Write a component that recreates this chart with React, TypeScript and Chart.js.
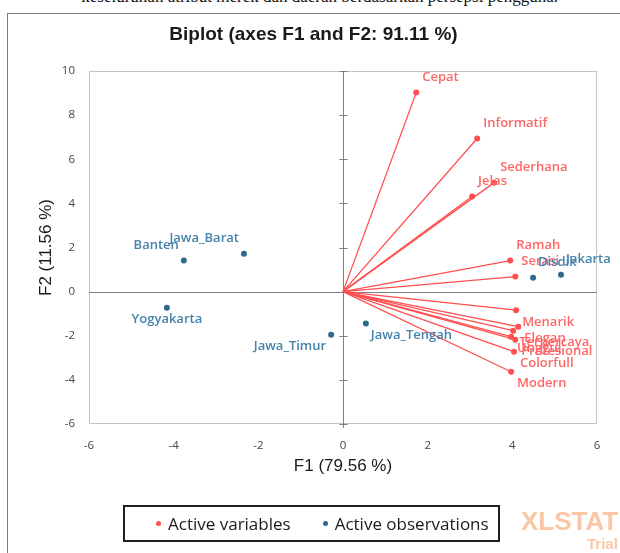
import React, { useEffect, useRef } from "react";
import { Chart, registerables } from "chart.js";

Chart.register(...registerables);

// ---- Data ----
const VAR_NAMES = [
  "Cepat", "Informatif", "Sederhana", "Jelas", "Ramah", "Serasi",
  "Menarik", "Elegan", "Terpercaya", "Unggul", "Profesional", "Colorfull", "Modern",
];
const VAR_F1 = [1.73, 3.17, 3.57, 3.05, 3.95, 4.07, 4.09, 4.14, 4.02, 3.97, 4.07, 4.04, 3.97];
const VAR_F2 = [9.02, 6.94, 4.94, 4.31, 1.41, 0.68, -0.84, -1.59, -1.77, -2.04, -2.18, -2.72, -3.63];

const OBS_NAMES = ["Jakarta", "Disdik", "Jawa_Tengah", "Jawa_Timur", "Yogyakarta", "Banten", "Jawa_Barat"];
const OBS_F1 = [5.15, 4.49, 0.54, -0.28, -4.16, -3.76, -2.34];
const OBS_F2 = [0.77, 0.63, -1.45, -1.95, -0.73, 1.41, 1.72];
// which side of the point each observation label sits on
const OBS_LABEL_SIDE = ["right", "right", "right", "left", "center", "left", "left"];

const X_TICKS = [-6, -4, -2, 0, 2, 4, 6];
const Y_TICKS = [-6, -4, -2, 0, 2, 4, 6, 8, 10];

const TITLE = "Biplot (axes F1 and F2: 91.11 %)";
const X_TITLE = "F1 (79.56 %)";
const Y_TITLE = "F2 (11.56 %)";
const LEGEND = ["Active variables", "Active observations"];
const PAGE_TEXT = "keseluruhan atribut merek dan daerah berdasarkan persepsi pengguna.";

const RED = "#ff4f4f";
const RED_TEXT = "#ff6666";
const BLUE = "#2c6b8e";
const BLUE_TEXT = "#4683aa";
const LABEL_FONT = "600 13px 'Open Sans'";

const decorPlugin = {
  id: "biplotDecor",
  beforeDatasetsDraw(chart: any) {
    const { ctx, chartArea: a, scales } = chart;
    const x = scales.x;
    const y = scales.y;
    ctx.save();
    ctx.lineWidth = 1;
    ctx.strokeStyle = "#c4c4c4";
    ctx.strokeRect(Math.round(a.left) + 0.5, Math.round(a.top) + 0.5, Math.round(a.width) - 1, Math.round(a.height) - 1);
    const x0 = Math.round(x.getPixelForValue(0)) + 0.5;
    const y0 = Math.round(y.getPixelForValue(0)) + 0.5;
    ctx.strokeStyle = "#7f7f7f";
    ctx.beginPath();
    ctx.moveTo(a.left, y0);
    ctx.lineTo(a.right, y0);
    ctx.moveTo(x0, a.top);
    ctx.lineTo(x0, a.bottom + 4);
    for (const t of Y_TICKS) {
      if (t === 0) continue;
      const py = Math.round(y.getPixelForValue(t)) + 0.5;
      ctx.moveTo(x0 - 4, py);
      ctx.lineTo(x0 + 4, py);
    }
    ctx.stroke();
    ctx.restore();
  },
  afterDatasetsDraw(chart: any) {
    const { ctx, scales } = chart;
    const x = scales.x;
    const y = scales.y;
    ctx.save();
    ctx.font = LABEL_FONT;
    ctx.textBaseline = "middle";
    ctx.fillStyle = RED_TEXT;
    ctx.textAlign = "left";
    VAR_NAMES.forEach((name, i) => {
      const px = x.getPixelForValue(VAR_F1[i]);
      const py = y.getPixelForValue(VAR_F2[i]);
      ctx.fillText(name, px + 6, VAR_F2[i] >= 0 ? py - 15 : py + 12);
    });
    ctx.fillStyle = BLUE_TEXT;
    OBS_NAMES.forEach((name, i) => {
      const px = x.getPixelForValue(OBS_F1[i]);
      const py = y.getPixelForValue(OBS_F2[i]);
      const side = OBS_LABEL_SIDE[i];
      const ly = OBS_F2[i] >= 0 ? py - 15 : py + 12;
      if (side === "left") {
        ctx.textAlign = "right";
        ctx.fillText(name, px - 5, ly);
      } else if (side === "center") {
        ctx.textAlign = "center";
        ctx.fillText(name, px, ly);
      } else {
        ctx.textAlign = "left";
        ctx.fillText(name, px + 5, ly);
      }
    });
    ctx.restore();
  },
};

export default function App() {
  const canvasRef = useRef<HTMLCanvasElement | null>(null);

  useEffect(() => {
    const canvas = canvasRef.current;
    if (!canvas) return;

    const varSets = VAR_NAMES.map((name, i) => ({
      label: name,
      data: [
        { x: 0, y: 0 },
        { x: VAR_F1[i], y: VAR_F2[i] },
      ],
      showLine: true,
      borderColor: RED,
      borderWidth: 1.3,
      backgroundColor: RED,
      pointBackgroundColor: RED,
      pointBorderColor: RED,
      pointRadius: [0, 3],
      pointBorderWidth: 0,
    }));

    const obsSet = {
      label: "obs",
      data: OBS_NAMES.map((_, i) => ({ x: OBS_F1[i], y: OBS_F2[i] })),
      showLine: false,
      backgroundColor: BLUE,
      pointBackgroundColor: BLUE,
      pointBorderColor: BLUE,
      pointRadius: 3,
      pointBorderWidth: 0,
    };

    const chart = new Chart(canvas, {
      type: "scatter",
      data: { datasets: [obsSet, ...varSets] as any },
      options: {
        animation: false,
        responsive: false,
        devicePixelRatio: 1,
        events: [],
        layout: { padding: { top: 14, left: 30, right: 23, bottom: 75 } },
        plugins: {
          legend: { display: false },
          tooltip: { enabled: false },
          title: {
            display: true,
            text: TITLE,
            color: "#1a1a1a",
            font: { family: "'Liberation Sans', Arial", size: 19, weight: "bold" },
            padding: { top: 9.6, bottom: 24.6 },
          },
        },
        scales: {
          x: {
            type: "linear",
            min: -6,
            max: 6,
            afterBuildTicks: (s: any) => {
              s.ticks = X_TICKS.map((v) => ({ value: v }));
            },
            afterFit: (s: any) => {
              s.height = 54;
            },
            grid: { display: false, drawTicks: false },
            border: { display: false },
            ticks: {
              color: "#444",
              font: { family: "'Open Sans'", size: 11.5 },
              padding: 15,
            },
            title: {
              display: true,
              text: X_TITLE,
              color: "#1a1a1a",
              font: { family: "'Liberation Sans', Arial", size: 17 },
              padding: { top: 0, bottom: 1 },
            },
          },
          y: {
            type: "linear",
            min: -6,
            max: 10,
            afterBuildTicks: (s: any) => {
              s.ticks = Y_TICKS.map((v) => ({ value: v }));
            },
            afterFit: (s: any) => {
              s.width = 59;
            },
            grid: { display: false, drawTicks: false },
            border: { display: false },
            ticks: {
              color: "#444",
              font: { family: "'Open Sans'", size: 11.5 },
              padding: 14,
            },
            title: {
              display: true,
              text: Y_TITLE,
              color: "#1a1a1a",
              font: { family: "'Liberation Sans', Arial", size: 17 },
              padding: { top: 6, bottom: 0 },
            },
          },
        },
      } as any,
      plugins: [decorPlugin],
    });

    return () => chart.destroy();
  }, []);

  return (
    <div
      style={{
        position: "absolute",
        left: 0,
        top: 0,
        width: 620,
        height: 553,
        overflow: "hidden",
        background: "#fff",
      }}
    >
      <div
        style={{
          position: "absolute",
          right: 62,
          top: -13,
          fontFamily: "'Liberation Serif', serif",
          fontSize: 17,
          whiteSpace: "nowrap",
          color: "#111",
        }}
      >
        {PAGE_TEXT}
      </div>
      <div
        style={{
          position: "absolute",
          left: 7,
          top: 13,
          width: 700,
          height: 700,
          border: "1px solid #7a7a7a",
        }}
      />
      <canvas
        ref={canvasRef}
        width={620}
        height={553}
        style={{ position: "absolute", left: 0, top: 0, width: 620, height: 553 }}
      />
      <div
        style={{
          position: "absolute",
          left: 123,
          top: 505,
          width: 373,
          height: 33,
          border: "2px solid #1f1f1f",
          display: "flex",
          alignItems: "center",
          fontFamily: "'Open Sans'",
          fontSize: 17,
          color: "#1a1a1a",
        }}
      >
        <span
          style={{
            display: "inline-block",
            width: 5,
            height: 5,
            borderRadius: "50%",
            background: RED,
            marginLeft: 31,
            marginRight: 7,
          }}
        />
        <span>{LEGEND[0]}</span>
        <span
          style={{
            display: "inline-block",
            width: 5,
            height: 5,
            borderRadius: "50%",
            background: BLUE,
            marginLeft: 32,
            marginRight: 7,
          }}
        />
        <span>{LEGEND[1]}</span>
      </div>
      <div
        style={{
          position: "absolute",
          left: 521,
          top: 507,
          fontFamily: "'Liberation Sans', Arial",
          fontWeight: "bold",
          fontSize: 26,
          color: "#fbc6a6",
          whiteSpace: "nowrap",
          lineHeight: "28px",
        }}
      >
        XLSTAT
      </div>
      <div
        style={{
          position: "absolute",
          left: 587,
          top: 535,
          fontFamily: "'Liberation Sans', Arial",
          fontWeight: "bold",
          fontSize: 15,
          color: "#fbc6a6",
          whiteSpace: "nowrap",
          lineHeight: "18px",
        }}
      >
        Trial
      </div>
    </div>
  );
}
